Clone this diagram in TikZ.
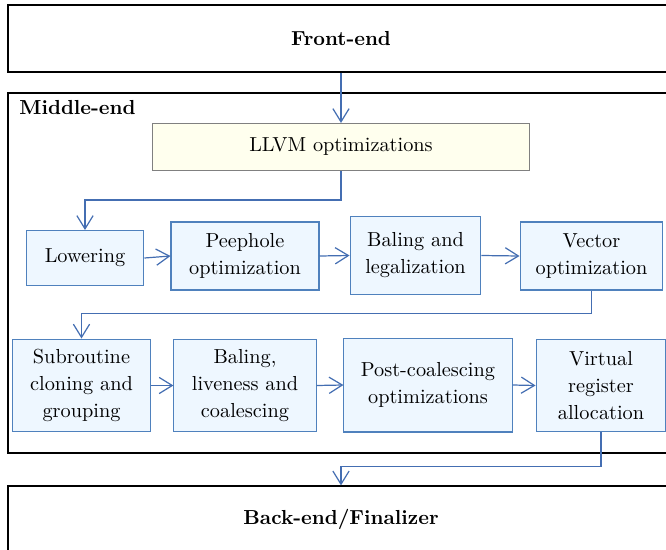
\documentclass[tikz,border=0pt]{standalone}
\usepackage{tikz}
\usetikzlibrary{arrows.meta}

\definecolor{boxline}{RGB}{79,129,189}
\definecolor{boxfill}{RGB}{238,247,255}
\definecolor{flowline}{RGB}{68,110,178}
\definecolor{llvmfill}{RGB}{255,255,238}

\begin{document}
\begin{tikzpicture}[x=0.4926pt,y=-0.4926pt,
        frame/.style={draw=black,line width=0.6pt,minimum width=328pt,inner sep=0pt,font=\bfseries},
        pass/.style={draw=boxline,fill=boxfill,line width=0.5pt,align=center,inner sep=0pt,
                     font=\fontsize{10}{13.3}\selectfont},
        flow/.style={draw=flowline,line width=0.6pt,-{Straight Barb[length=6.5pt,width=8pt]}}]
        \clip (0,0) rectangle (666,550);
        \useasboundingbox (0,0) rectangle (666,550);

        \node[frame,minimum height=33pt] (front) at (341, 38.5)   {Front-end};
        \node[frame,minimum height=177.3pt] (middle) at (341, 273) {};
        \node[frame,minimum height=32.5pt] (back) at (341, 519)  {Back-end/Finalizer};
        \node[anchor=west,font=\bfseries,inner sep=0pt] (midlabel) at (19, 108) {Middle-end};

        \node[pass,draw=gray,fill=llvmfill,minimum width=185.7pt,minimum height=23.2pt] (llvm) at (341, 147) {LLVM optimizations};

        \node[pass,minimum width=58.1pt,minimum height=27.1pt] (lower) at (85, 258)  {Lowering};
        \node[pass,minimum width=72.9pt,minimum height=33.5pt] (peep)  at (245, 256) {Peephole\\optimization};
        \node[pass,minimum width=64.5pt,minimum height=38.9pt] (bal)   at (415.5, 255.5) {Baling and\\legalization};
        \node[pass,minimum width=70.4pt,minimum height=33.5pt] (vec)   at (591.5, 256) {Vector\\optimization};

        \node[pass,minimum width=67.5pt,minimum height=45.8pt] (subr)  at (81.5, 385.5) {Subroutine\\cloning and\\grouping};
        \node[pass,minimum width=70pt,minimum height=45.8pt]   (live)  at (245, 385.5) {Baling,\\liveness and\\coalescing};
        \node[pass,minimum width=82.8pt,minimum height=46.3pt] (post)  at (428, 385) {Post-coalescing\\optimizations};
        \node[pass,minimum width=64pt,minimum height=45.8pt]   (vreg)  at (601, 385.5) {Virtual\\register\\allocation};

        \draw[flow] (llvm.north |- front.south) -- (llvm.north);
        \draw[flow] (llvm.south) -- ++(0,29) -| (lower.north);
        \draw[flow] (lower.east) -- (peep.west);
        \draw[flow] (peep.east) -- (bal.west);
        \draw[flow] (bal.east) -- (vec.west);
        \draw[flow] (vec.south) -- ++(0,23) -| (subr.north);
        \draw[flow] (subr.east) -- (live.west);
        \draw[flow] (live.east) -- (post.west);
        \draw[flow] (post.east) -- (vreg.west);
        \draw[flow] (vreg.south) -- ++(0,34) -| (back.north);
\end{tikzpicture}
\end{document}
